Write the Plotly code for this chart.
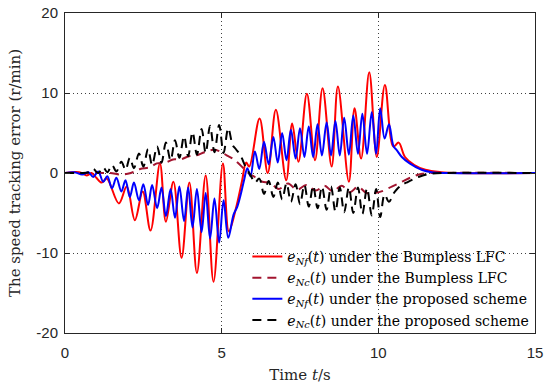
import plotly.graph_objects as go

# ---------------- data ----------------
# e_Nf(t) under the Bumpless LFC (red solid)
red_t = [0, 0.45, 0.7, 0.85, 1.0, 1.17, 1.33, 1.72, 1.97, 2.23, 2.48, 2.73, 3.03, 3.22, 3.46,
         3.72, 3.97, 4.21, 4.49, 4.74, 5.04, 5.23, 5.45, 5.65, 5.78, 5.88, 6.21, 6.47, 6.73,
         7.06, 7.25, 7.45, 7.72, 7.98, 8.22, 8.51, 8.71, 9.06, 9.24, 9.45, 9.71, 9.95, 10.21,
         10.48, 10.65, 10.85, 11.15, 11.5, 12.0, 12.5, 15]
red_y = [0, 0.1, -0.3, 0.0, -0.6, -1.2, -0.7, -3.8, -1.7, -5.9, -2.3, -7.2, 1.2, -6.1, -1.1,
         -10.6, -1.2, -12.5, -0.3, -13.6, 1.2, -7.3, -4.5, -1.0, 1.3, 0.8, 6.8, 0.0, 7.9,
         -0.9, 6.2, 1.4, 9.9, 1.6, 10.6, 0.8, 10.8, -1.1, 8.1, 1.8, 12.6, 2.0, 11.0,
         3.3, 3.8, 2.0, 1.0, 0.4, 0.1, 0.0, 0.0]

# e_Nc(t) under the Bumpless LFC (dark red dashed)
brown_t = [0, 1.0, 1.44, 1.8, 2.1, 2.4, 2.7, 2.93, 3.2, 3.45, 3.7, 3.95, 4.2, 4.45, 4.73, 4.95,
           5.16, 5.35, 5.59, 5.85, 6.06, 6.3, 6.54, 6.82, 7.12, 7.4, 7.7, 8.0, 8.28, 8.55,
           8.83, 9.1, 9.35, 9.62, 9.9, 10.1, 10.43, 10.75, 11.07, 11.4, 12.0, 15]
brown_y = [0, 0.0, 0.0, -0.2, 0.0, 0.5, 0.7, 1.2, 1.3, 1.7, 1.7, 2.1, 2.2, 2.6, 2.9, 2.7,
           2.2, 1.8, 1.0, 0.0, -0.5, -1.1, -1.2, -2.0, -1.3, -2.1, -1.5, -2.2, -1.6, -2.3,
           -1.6, -2.4, -1.7, -2.5, -2.5, -2.3, -1.7, -1.1, -0.5, -0.1, 0.0, 0.0]

# e_Nf(t) under the proposed scheme (blue solid)
blue_t = [0, 0.3, 0.55, 0.75, 0.9, 1.06, 1.22, 1.35, 1.5, 1.64, 1.8, 1.93, 2.07, 2.2, 2.36,
          2.5, 2.65, 2.78, 2.94, 3.08, 3.22, 3.37, 3.51, 3.65, 3.8, 3.93, 4.07, 4.21, 4.36,
          4.49, 4.63, 4.77, 4.92, 5.06, 5.21, 5.38, 5.5, 5.62, 5.72, 5.82, 5.92, 6.06, 6.2,
          6.35, 6.5, 6.65, 6.79, 6.93, 7.07, 7.21, 7.36, 7.5, 7.64, 7.78, 7.92, 8.06, 8.2,
          8.35, 8.49, 8.63, 8.77, 8.91, 9.06, 9.2, 9.35, 9.49, 9.64, 9.79, 9.93, 10.06, 10.2,
          10.34, 10.48, 10.6, 10.75, 11.0, 11.38, 11.7, 12.2, 15]
blue_y = [0, 0.1, -0.2, 0.1, -0.5, 0.2, -1.1, -0.4, -1.9, -0.6, -2.3, -0.9, -3.0, -1.2, -3.4,
          -1.4, -4.0, -1.5, -4.4, -1.8, -5.4, -2.0, -5.6, -1.7, -6.0, -1.8, -6.8, -2.0, -7.4,
          -2.5, -8.2, -3.2, -8.7, -3.4, -8.1, -5.2, -4.2, -2.5, -0.8, 0.6, -0.4, 2.7, 0.5,
          3.9, 1.1, 4.5, 1.3, 5.0, 1.6, 5.4, 1.8, 5.6, 2.0, 5.8, 2.0, 6.1, 2.2,
          6.3, 2.2, 6.5, 2.2, 6.9, 2.3, 7.2, 2.4, 7.4, 2.4, 7.6, 2.4, 8.1, 4.3,
          6.1, 3.4, 2.8, 2.0, 1.2, 0.4, 0.1, 0.0, 0.0]

# e_Nc(t) under the proposed scheme (black dashed)
black_t = [0, 0.5, 0.75, 0.9, 1.06, 1.22, 1.35, 1.5, 1.64, 1.8, 1.93, 2.07, 2.2, 2.36, 2.5,
           2.65, 2.78, 2.94, 3.08, 3.22, 3.37, 3.51, 3.65, 3.8, 3.93, 4.07, 4.21, 4.36, 4.49,
           4.63, 4.77, 4.92, 5.06, 5.21, 5.35, 5.45, 5.6, 5.75, 5.85, 5.95, 6.06, 6.2, 6.35,
           6.5, 6.65, 6.79, 6.93, 7.07, 7.21, 7.36, 7.5, 7.64, 7.78, 7.92, 8.06, 8.2, 8.35,
           8.49, 8.63, 8.77, 8.91, 9.06, 9.2, 9.35, 9.49, 9.64, 9.79, 9.93, 10.06, 10.2, 10.34,
           10.48, 10.6, 10.75, 10.95, 11.28, 11.65, 12.2, 15]
black_y = [0, 0.0, 0.1, 0.5, 0.0, 0.7, 0.1, 1.0, 0.2, 1.4, 0.4, 1.9, 0.6, 2.45, 0.8,
           3.0, 1.0, 3.3, 1.3, 3.8, 1.6, 4.1, 1.9, 4.6, 2.1, 5.1, 2.3, 5.5, 2.5,
           5.9, 2.6, 6.0, 2.5, 5.6, 3.5, 3.0, 2.2, 0.9, 0.2, -0.5, -1.2, -0.7, -2.6,
           -1.0, -3.0, -1.2, -3.3, -1.3, -3.6, -1.4, -3.9, -1.5, -4.2, -1.6, -4.4, -1.7, -4.6,
           -1.7, -4.8, -1.8, -4.9, -1.8, -5.0, -1.8, -5.1, -1.9, -5.3, -2.0, -5.5, -2.7, -3.6,
           -2.6, -2.0, -1.5, -1.1, -0.5, -0.1, 0.0, 0.0]

x_ticks = [0, 5, 10, 15]
x_tick_text = ["0", "5", "10", "15"]
y_ticks = [-20, -10, 0, 10, 20]
y_tick_text = ["-20", "-10", "0", "10", "20"]

names = [
    "<i>e</i><sub><i>Nf</i></sub>(<i>t</i>) under the Bumpless LFC",
    "<i>e</i><sub><i>Nc</i></sub>(<i>t</i>) under the Bumpless LFC",
    "<i>e</i><sub><i>Nf</i></sub>(<i>t</i>) under the proposed scheme",
    "<i>e</i><sub><i>Nc</i></sub>(<i>t</i>) under the proposed scheme",
]

# ---------------- figure ----------------
SERIF = "DejaVu Serif"
SANS = "Liberation Sans, Arial, sans-serif"

fig = go.Figure()
series = [
    (red_t, red_y, "#FF0000", "solid"),
    (brown_t, brown_y, "#A2142F", "9px,6px"),
    (blue_t, blue_y, "#0000FF", "solid"),
    (black_t, black_y, "#000000", "9px,6px"),
]
for (t, y, c, d), nm in zip(series, names):
    fig.add_trace(go.Scatter(
        x=t, y=y, mode="lines", name=nm,
        line=dict(color=c, width=2, dash=d, shape="spline", smoothing=1.0),
    ))

axis_common = dict(
    showline=True, linecolor="#262626", linewidth=1, mirror="ticks",
    ticks="inside", ticklen=5, tickcolor="#262626", tickwidth=1,
    showgrid=True, gridcolor="#404040", gridwidth=1, griddash="1px,3px",
    zeroline=False, tickfont=dict(family=SANS, size=15, color="#262626"),
    ticklabeloverflow="allow",
)
fig.update_xaxes(
    range=[0, 15], tickmode="array", tickvals=x_ticks, ticktext=x_tick_text,
    title=dict(text="Time <i>t</i>/s", font=dict(family=SERIF, size=15, color="#262626"), standoff=9),
    ticklabelstandoff=6, **axis_common,
)
fig.update_yaxes(
    range=[-20, 20], tickmode="array", tickvals=y_ticks, ticktext=y_tick_text,
    title=dict(text="The speed tracking error (r/min)", font=dict(family=SERIF, size=15, color="#262626"), standoff=12),
    ticklabelstandoff=3, **axis_common,
)
fig.update_layout(
    width=550, height=390,
    margin=dict(l=65, r=15, t=13, b=57, autoexpand=False),
    paper_bgcolor="white", plot_bgcolor="white",
    showlegend=True,
    legend=dict(
        x=0.388, xanchor="left", y=0.288, yanchor="top",
        bgcolor="rgba(0,0,0,0)", borderwidth=0,
        font=dict(family=SERIF, size=14, color="#000000"),
        tracegroupgap=0,
    ),
)
# remove the browser's default 8 px body margin so the figure fills the window
fig.write_html(
    "out.html",
    config={"displayModeBar": False},
    post_script="document.body.style.margin='0';document.body.style.overflow='hidden';",
)
